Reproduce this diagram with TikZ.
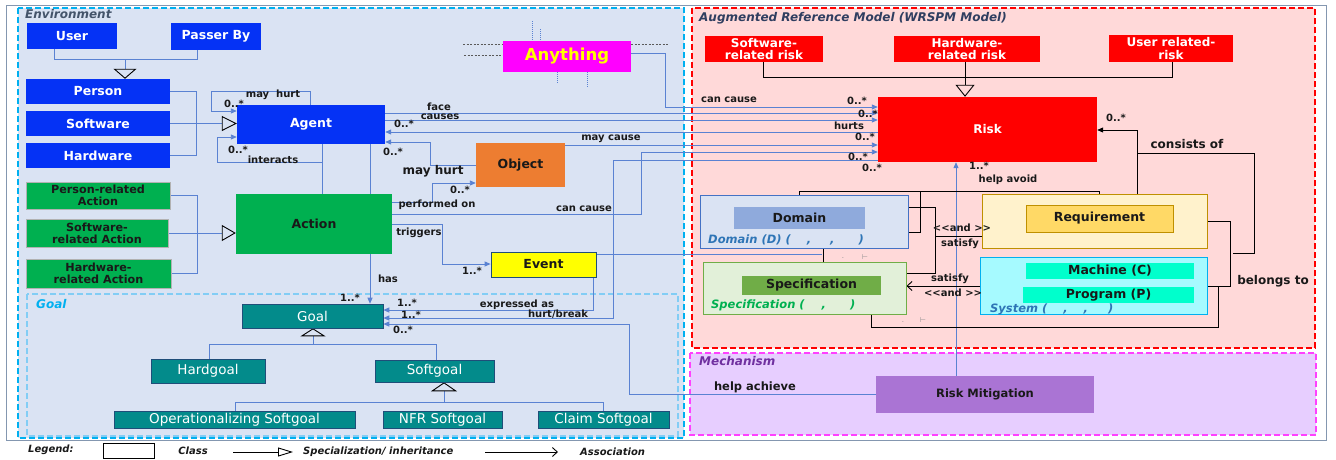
\documentclass[tikz,border=0pt]{standalone}
\usepackage{fontspec}
\setmainfont{DejaVu Sans}
\usetikzlibrary{arrows.meta}

\definecolor{framegray}{RGB}{132,151,176}
\definecolor{envfill}{RGB}{218,227,243}
\definecolor{envdash}{RGB}{0,176,240}
\definecolor{goaldash}{RGB}{130,205,245}
\definecolor{armfill}{RGB}{255,217,217}
\definecolor{mechfill}{RGB}{231,206,255}
\definecolor{mechdash}{RGB}{255,64,255}
\definecolor{agentblue}{RGB}{5,50,245}
\definecolor{linkblue}{RGB}{90,130,210}
\definecolor{actgreen}{RGB}{0,176,80}
\definecolor{objorange}{RGB}{237,125,49}
\definecolor{anymagenta}{RGB}{255,0,255}
\definecolor{anyyellow}{RGB}{255,255,0}
\definecolor{goalteal}{RGB}{3,139,139}
\definecolor{goalborder}{RGB}{31,78,121}
\definecolor{darktext}{RGB}{25,25,25}
\definecolor{envtext}{RGB}{68,84,106}
\definecolor{armtext}{RGB}{47,62,96}
\definecolor{mechtext}{RGB}{112,48,160}
\definecolor{domfill}{RGB}{218,227,243}
\definecolor{domborder}{RGB}{68,114,196}
\definecolor{dominner}{RGB}{143,170,220}
\definecolor{domtext}{RGB}{46,117,182}
\definecolor{specfill}{RGB}{226,240,217}
\definecolor{specgreen}{RGB}{112,173,71}
\definecolor{reqfill}{RGB}{255,242,204}
\definecolor{reqinner}{RGB}{255,217,102}
\definecolor{reqborder}{RGB}{191,144,0}
\definecolor{sysfill}{RGB}{166,250,255}
\definecolor{sysinner}{RGB}{0,255,204}
\definecolor{mitfill}{RGB}{170,116,212}

\pgfdeclarelayer{frames}
\pgfdeclarelayer{links}
\pgfsetlayers{frames,links,main}

\tikzset{
  cls/.style={inner sep=0pt, align=center, text=darktext,
    font=\fontsize{12.5}{13}\selectfont\bfseries},
  agentcls/.style={cls, fill=agentblue, text=white},
  actcls/.style={cls, fill=actgreen},
  subact/.style={actcls, draw=black!30, font=\fontsize{11.2}{12}\selectfont\bfseries},
  goalcls/.style={cls, fill=goalteal, draw=goalborder, line width=0.6pt, text=white,
    font=\fontsize{13.5}{14}\selectfont},
  riskcls/.style={cls, fill=red, text=white, font=\fontsize{12}{12.5}\selectfont\bfseries},
  grpbox/.style={inner sep=0pt, line width=0.8pt},
  framelbl/.style={inner sep=0pt, font=\fontsize{12}{12}\selectfont\bfseries\itshape},
  lbl/.style={inner sep=0pt, text=darktext, font=\fontsize{10}{10}\selectfont\bfseries},
  biglbl/.style={lbl, font=\fontsize{12}{12}\selectfont\bfseries},
  legtext/.style={inner sep=0pt, text=darktext, font=\fontsize{10}{10}\selectfont\bfseries\itshape},
  link/.style={draw=linkblue, line width=0.9pt},
  blk/.style={draw=black, line width=0.9pt},
  assoc/.style={-{Triangle[length=6pt, width=5pt]}},
  openarrow/.style={-{Straight Barb[length=5pt, width=9pt]}},
  gen/.style 2 args={-{Triangle[open, color=black, line width=0.9pt, width=#1pt, length=#2pt]}},
  decodash/.style={draw=black!65, line width=0.6pt, dash pattern=on 2pt off 1.5pt},
  decodot/.style={draw=linkblue, line width=0.8pt, dash pattern=on 1pt off 1pt},
  tick/.style={inner sep=0pt, text=black!45, font=\fontsize{7}{7}\selectfont}
}

\begin{document}
\begin{tikzpicture}[x=1pt,y=-1pt]
\useasboundingbox (0,0) rectangle (1336,459);

% frames
\begin{pgfonlayer}{frames}
\fill[white] (0,0) rectangle (1336,459);
\draw[framegray, line width=0.8pt] (6,5) rectangle (1326,440);
\draw[envdash, fill=envfill, line width=2pt, dash pattern=on 6pt off 3pt] (18,8) rectangle (684,438);
\draw[goaldash, line width=1.5pt, dash pattern=on 6pt off 3pt] (27,294) rectangle (678,436);
\draw[red, fill=armfill, line width=1.5pt, dash pattern=on 6pt off 3pt] (692,8) rectangle (1315,348);
\draw[mechdash, fill=mechfill, line width=1.5pt, dash pattern=on 6pt off 3pt] (690,353) rectangle (1316,435);
\end{pgfonlayer}

\node[framelbl, text=envtext, anchor=west] (envlbl) at (25,14) {Environment};
\node[framelbl, text=envdash, anchor=west] (goallbl) at (36,304) {Goal};
\node[framelbl, text=armtext, anchor=west] (armlbl) at (699,18) {Augmented Reference Model (WRSPM Model)};
\node[framelbl, text=mechtext, anchor=west] (mechlbl) at (699,361) {Mechanism};

% environment classes
\node[agentcls, minimum width=90, minimum height=26] (user) at (72,36) {User};
\node[agentcls, minimum width=90, minimum height=27] (passer) at (216,36.5) {Passer By};
\node[agentcls, minimum width=144, minimum height=25] (person) at (98,91.5) {Person};
\node[agentcls, minimum width=144, minimum height=25] (software) at (98,123.5) {Software};
\node[agentcls, minimum width=144, minimum height=25] (hardware) at (98,155.5) {Hardware};
\node[agentcls, minimum width=148, minimum height=39] (agent) at (311,124.5) {Agent};
\node[cls, fill=anymagenta, text=anyyellow, minimum width=128, minimum height=31,
  font=\fontsize{16.5}{17}\selectfont\bfseries] (anything) at (567,56.5) {Anything};
\node[cls, fill=objorange, minimum width=89, minimum height=44] (object) at (520.5,165) {Object};
\node[actcls, minimum width=156, minimum height=60] (action) at (314,224) {Action};
\node[subact, minimum width=144, minimum height=27] (pract) at (98,195.5) {Person-related\\Action};
\node[subact, minimum width=142, minimum height=28] (sract) at (97,233) {Software-\\related Action};
\node[subact, minimum width=145, minimum height=29] (hract) at (98.5,273.5) {Hardware-\\related Action};
\node[cls, fill=anyyellow, draw=goalborder, line width=0.8pt, minimum width=105, minimum height=25] (event) at (543.5,264.5) {Event};

% goals
\node[goalcls, minimum width=141, minimum height=24] (goal) at (312.5,316) {Goal};
\node[goalcls, minimum width=114, minimum height=24] (hardgoal) at (208,371) {Hardgoal};
\node[goalcls, minimum width=119, minimum height=22] (softgoal) at (434.5,371) {Softgoal};
\node[goalcls, minimum width=241, minimum height=17] (opsoft) at (234.5,419.5) {Operationalizing Softgoal};
\node[goalcls, minimum width=119, minimum height=17] (nfrsoft) at (442.5,419.5) {NFR Softgoal};
\node[goalcls, minimum width=131, minimum height=17] (claimsoft) at (603.5,419.5) {Claim Softgoal};

% WRSPM model
\node[riskcls, minimum width=219, minimum height=65] (risk) at (987.5,129.5) {Risk};
\node[riskcls, minimum width=118, minimum height=26] (swrisk) at (764,49) {Software-\\related risk};
\node[riskcls, minimum width=146, minimum height=26] (hwrisk) at (967,49) {Hardware-\\related risk};
\node[riskcls, minimum width=124, minimum height=27] (userrisk) at (1171,48.5) {User related-\\risk};
\node[grpbox, draw=domborder, fill=domfill, minimum width=208, minimum height=53] (domaingrp) at (804,221.5) {};
\node[cls, fill=dominner, minimum width=131, minimum height=22] (domain) at (799.5,218) {Domain};
\node[framelbl, text=domtext, anchor=west, font=\fontsize{11.5}{12}\selectfont\bfseries\itshape] (domainlbl) at (708,240)
  {Domain (D) (\hspace{16pt},\hspace{19pt},\hspace{24pt})};
\node[grpbox, draw=specgreen, fill=specfill, minimum width=203, minimum height=52] (specgrp) at (804.5,288) {};
\node[cls, fill=specgreen, minimum width=139, minimum height=19] (spec) at (811.5,285.5) {Specification};
\node[framelbl, text=actgreen, anchor=west, font=\fontsize{11.5}{12}\selectfont\bfseries\itshape] (speclbl) at (711,305)
  {Specification (\hspace{17pt},\hspace{24pt})};
\node[grpbox, draw=reqborder, fill=reqfill, minimum width=225, minimum height=54] (reqgrp) at (1094.5,221) {};
\node[cls, fill=reqinner, draw=reqborder, line width=0.6pt, minimum width=147, minimum height=27] (req) at (1099.5,218.5) {Requirement};
\node[grpbox, draw=envdash, fill=sysfill, minimum width=227, minimum height=57] (sysgrp) at (1093.5,285.5) {};
\node[cls, fill=sysinner, minimum width=168, minimum height=16] (machine) at (1110,271) {Machine (C)};
\node[cls, fill=sysinner, minimum width=171, minimum height=16] (program) at (1108.5,295) {Program (P)};
\node[framelbl, text=domtext, anchor=west, font=\fontsize{11.5}{12}\selectfont\bfseries\itshape] (syslbl) at (990,309)
  {System (\hspace{16pt},\hspace{16pt},\hspace{20pt})};
\node[cls, fill=mitfill, minimum width=218, minimum height=37, font=\fontsize{11.5}{12}\selectfont\bfseries] (riskmit) at (985,394.5) {Risk Mitigation};

% connectors
\begin{pgfonlayer}{links}
\draw[link] (user.south -| 54,0) -- (54,59) -- (197,59) -- (passer.south -| 197,0);
\draw[link, gen={23}{10}] (125,59) -- (person.north -| 125,0);
\draw[link] (person.east) -- (196,91.5) -- (196,155.5) -- (hardware.east);
\draw[link, gen={15}{15}] (software.east) -- (software.east -| agent.west);
\draw[link] (pract.east) -- (197,195.5) -- (197,273.5) -- (hract.east);
\draw[link, gen={16}{14}] (sract.east) -- (sract.east -| action.west);
\draw[link, assoc] (agent.north -| 310,0) -- (310,91) -- (211,91) -- (211,111) -- (agent.west |- 0,111);
\draw[link, assoc] (322,162) -- (217,162) -- (217,137) -- (agent.west |- 0,137);
\draw[link] (agent.south -| 322,0) -- (action.north -| 322,0);
\draw[link, assoc] (agent.east |- 0,113) -- (risk.west |- 0,113);
\draw[link, assoc] (agent.east |- 0,120) -- (risk.west |- 0,120);
\draw[link, assoc] (risk.west |- 0,132) -- (agent.east |- 0,132);
\draw[link, assoc] (anything.east |- 0,53) -- (665,53) -- (665,107) -- (risk.west |- 0,107);
\draw[link, assoc] (object.east |- 0,145) -- (risk.west |- 0,145);
\draw[link, assoc] (object.west) -- (430,165) -- (430,142) -- (agent.east |- 0,142);
\draw[link, assoc] (action.east |- 0,214) -- (641,214) -- (641,152) -- (risk.west |- 0,152);
\draw[link, assoc] (action.east |- 0,202) -- (432,202) -- (432,183) -- (object.west |- 0,183);
\draw[link, assoc] (action.east) -- (442,224) -- (442,264) -- (event.west |- 0,264);
\draw[link] (event.east |- 0,254) -- (822,254);
\draw[link, assoc] (event.south -| 593,0) -- (593,310) -- (goal.east |- 0,310);
\draw[link, assoc] (risk.west |- 0,160) -- (613,160) -- (613,318) -- (goal.east |- 0,318);
\draw[link, assoc] (agent.south -| 370,0) -- (goal.north -| 370,0);
\draw[link, assoc] (riskmit.west) -- (629,394.5) -- (629,324) -- (goal.east |- 0,324);
\draw[link, assoc] (riskmit.north -| 956,0) -- (risk.south -| 956,0);
\draw[link, gen={25}{8}] (313,344) -- (goal.south -| 313,0);
\draw[link] (hardgoal.north -| 209,0) -- (209,344) -- (436,344) -- (softgoal.north -| 436,0);
\draw[link, gen={26}{9}] (444,402) -- (softgoal.south -| 444,0);
\draw[link] (opsoft.north -| 235,0) -- (235,402) -- (603,402) -- (claimsoft.north -| 603,0);
% Anything decoration
\draw[decodash] (463,44) -- (anything.west |- 0,44);
\draw[decodash] (464,55) -- (anything.west |- 0,55);
\draw[decodash] (anything.east |- 0,44) -- (669,44);
\draw[decodot] (532,21) -- (anything.north -| 532,0);
\draw[decodot] (540,29) -- (anything.north -| 540,0);
\draw[decodot] (anything.south -| 557,0) -- (557,83);
\draw[decodot] (anything.south -| 587,0) -- (587,88);
% WRSPM connectors
\draw[blk] (swrisk.south -| 763,0) -- (763,77) -- (1172,77) -- (userrisk.south -| 1172,0);
\draw[blk, gen={19}{12}] (hwrisk.south -| 965,0) -- (risk.north -| 965,0);
\draw[blk, -{Triangle[length=6pt, width=5pt]}] (reqgrp.north -| 1137,0) -- (1137,130) -- (risk.east |- 0,130);
\draw[blk] (1137,153) -- (1254,153) -- (1254,253) -- (1233,253);
\draw[blk] (reqgrp.east |- 0,221) -- (1230,221) -- (1230,286) -- (sysgrp.east |- 0,286);
\draw[blk] (specgrp.south -| 871,0) -- (871,327) -- (1218,327) -- (1218,286);
\draw[blk] (domain.north -| 799,0) -- (799,191) -- (1099,191) -- (req.north -| 1099,0);
\draw[blk] (spec.north -| 823,0) -- (823,232) -- (920,232) -- (920,191);
\draw[blk] (domaingrp.east |- 0,207) -- (935,207) -- (935,273) -- (specgrp.east |- 0,273);
\draw[blk, openarrow] (935,236) -- (998,236) -- (998,211) -- (req.west |- 0,211);
\draw[blk] (machine.west) -- (996,271) -- (996,295) -- (program.west);
\draw[blk, openarrow] (996,286) -- (specgrp.east |- 0,286);
\end{pgfonlayer}

% association labels
\node[lbl] (l1) at (273,95) {may\ \ hurt};
\node[lbl] (l2) at (234,104) {0..*};
\node[lbl] (l3) at (238,150) {0..*};
\node[lbl] (l4) at (273,160) {interacts};
\node[lbl] (l5) at (439,107) {face};
\node[lbl] (l6) at (440,117) {causes};
\node[lbl] (l7) at (404,124) {0..*};
\node[lbl] (l8) at (393,152) {0..*};
\node[biglbl] (l9) at (433,171) {may hurt};
\node[lbl] (l10) at (611,139) {may cause};
\node[lbl] (l11) at (460,190) {0..*};
\node[lbl] (l12) at (437,205) {performed on};
\node[lbl] (l13) at (584,209) {can cause};
\node[lbl] (l14) at (419,233) {triggers};
\node[lbl] (l15) at (472,271) {1..*};
\node[lbl] (l16) at (388,279) {has};
\node[lbl] (l17) at (350,298) {1..*};
\node[lbl] (l18) at (407,303) {1..*};
\node[lbl] (l19) at (517,305) {expressed as};
\node[lbl] (l20) at (411,315) {1..*};
\node[lbl] (l21) at (558,314) {hurt/break};
\node[lbl] (l22) at (403,330) {0..*};
\node[lbl] (l23) at (729,100) {can cause};
\node[lbl] (l24) at (857,101) {0..*};
\node[lbl] (l25) at (868,114) {0..*};
\node[lbl] (l26) at (849,126) {hurts};
\node[lbl] (l27) at (865,137) {0..*};
\node[lbl] (l28) at (858,157) {0..*};
\node[lbl] (l29) at (872,168) {0..*};
\node[lbl] (l30) at (979,166) {1..*};
\node[lbl] (l31) at (1008,180) {help avoid};
\node[lbl] (l32) at (1116,118) {0..*};
\node[biglbl] (l33) at (1187,144) {consists of};
\node[lbl] (l34) at (962,228) {<{}<and >{}>};
\node[lbl] (l35) at (960,244) {satisfy};
\node[lbl] (l36) at (950,279) {satisfy};
\node[lbl] (l37) at (953,293) {<{}<and >{}>};
\node[biglbl] (l38) at (1273,281) {belongs to};
\node[lbl, font=\fontsize{11.5}{12}\selectfont\bfseries] (l39) at (755,387) {help achieve};
\node[tick] (t1) at (843,258) {.};
\node[tick] (t2) at (865,257) {⊢};
\node[tick] (t3) at (903,322) {.};
\node[tick] (t4) at (923,320) {⊢};

% legend
\node[legtext, anchor=west] (leglbl) at (28,450) {Legend:};
\node[draw=black, fill=white, line width=0.8pt, minimum width=51, minimum height=15, inner sep=0pt] (legclass) at (128.5,450.5) {};
\node[legtext] (legclasst) at (193,451) {Class};
\coordinate (gen0) at (233,452);
\coordinate (gen1) at (293,452);
\draw[blk, gen={9}{15}] (gen0) -- (gen1);
\node[legtext, anchor=west] (leggen) at (303,452) {Specialization/ inheritance};
\coordinate (as0) at (485,452);
\coordinate (as1) at (558,452);
\draw[blk, openarrow] (as0) -- (as1);
\node[legtext, anchor=west] (legas) at (580,452) {Association};
\end{tikzpicture}
\end{document}
